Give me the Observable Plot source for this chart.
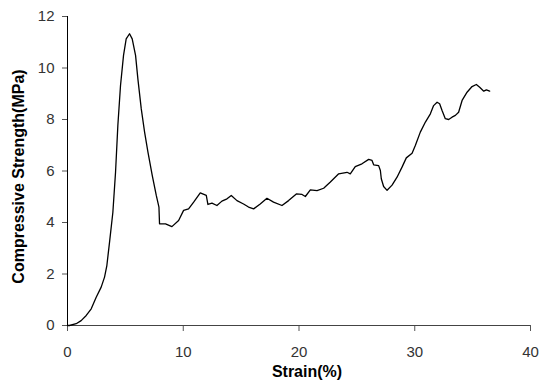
<!DOCTYPE html>
<html>
<head>
<meta charset="utf-8">
<script src="https://cdn.jsdelivr.net/npm/d3@7"></script>
<script src="https://cdn.jsdelivr.net/npm/@observablehq/plot@0.6"></script>
<style>
  html, body { margin: 0; padding: 0; background: #fff; }
  #chart { width: 540px; height: 385px; }
</style>
</head>
<body>
<div id="chart"></div>
<script>
const strain = [0, 0.17, 0.75, 1.18, 1.62, 2.05, 2.48, 2.91, 3.2, 3.4, 3.63, 3.92, 4.15, 4.35, 4.58, 4.84, 5.07, 5.36, 5.59, 5.88,
  6.08, 6.37, 6.66, 6.95, 7.32, 7.67, 7.9, 7.95, 8.47,
  9.02, 9.6, 10.03, 10.46, 10.9, 11.47, 11.99, 12.13, 12.48, 12.91, 13.34, 13.78, 14.15, 14.64, 15.21,
  15.64, 16.08, 16.65, 17.23, 17.8, 18.53, 19.1, 19.77, 20.26, 20.55, 20.98, 21.56, 22.13, 22.71, 23.43, 24.15, 24.43, 24.86, 25.44, 26.02,
  26.31, 26.45, 26.88, 27.03, 27.11, 27.31, 27.61, 28.04, 28.47, 28.9, 29.27, 29.77, 30.05, 30.48, 30.92, 31.35, 31.63, 31.93, 32.15, 32.36,
  32.64, 32.93, 33.22, 33.51, 33.79, 34.09, 34.52, 34.95, 35.32, 35.61, 35.96, 36.19, 36.47];
const stress = [0, 0.0, 0.07, 0.19, 0.39, 0.65, 1.1, 1.49, 1.88, 2.33, 3.23, 4.4, 5.95, 7.77, 9.32, 10.49, 11.13, 11.33, 11.13, 10.49,
  9.58, 8.42, 7.51, 6.73, 5.83, 5.05, 4.6, 3.95, 3.95,
  3.84, 4.08, 4.47, 4.53, 4.79, 5.15, 5.05, 4.7, 4.75, 4.66, 4.83, 4.92, 5.05, 4.85, 4.72,
  4.6, 4.53, 4.72, 4.94, 4.79, 4.66, 4.85, 5.11, 5.09, 5.01, 5.27, 5.24, 5.33, 5.57, 5.89, 5.95, 5.89, 6.17, 6.28, 6.45,
  6.41, 6.24, 6.21, 6.02, 5.7, 5.4, 5.25, 5.45, 5.76, 6.15, 6.51, 6.69, 6.99, 7.51, 7.9, 8.22, 8.54, 8.67, 8.61, 8.35,
  8.03, 8.0, 8.09, 8.16, 8.28, 8.74, 9.06, 9.28, 9.36, 9.25, 9.1, 9.15, 9.1];
const xTicks = [0, 10, 20, 30, 40];
const yTicks = [0, 2, 4, 6, 8, 10, 12];
const xTitle = "Strain(%)";
const yTitle = "Compressive Strength(MPa)";

const data = strain.map((x, i) => ({x, y: stress[i]}));

const chart = Plot.plot({
  width: 540,
  height: 385,
  marginLeft: 67,
  marginRight: 10,
  marginTop: 16,
  marginBottom: 60,
  style: {fontFamily: "'Liberation Sans', Arial, sans-serif", fontSize: "15px", background: "#fff", color: "#333"},
  x: {domain: [0, 40]},
  y: {domain: [0, 12]},
  marks: [
    Plot.axisY({ticks: yTicks, tickSize: 5, tickPadding: 8, label: null, stroke: "#555", fill: "#333", fontSize: 15}),
    Plot.axisX({ticks: xTicks, tickSize: 6, tickPadding: 15, label: null, stroke: "#555", fill: "#333", fontSize: 15}),
    Plot.ruleX([0], {stroke: "#000", strokeWidth: 1}),
    Plot.ruleY([0], {stroke: "#444", strokeWidth: 1}),
    Plot.line(data, {x: "x", y: "y", stroke: "#000", strokeWidth: 1.3}),
    Plot.text([yTitle], {frameAnchor: "left", rotate: -90, dx: -49, dy: 5.5, fontWeight: "bold", fontSize: 16, fill: "#000", textAnchor: "middle", lineAnchor: "middle"}),
    Plot.text([xTitle], {frameAnchor: "bottom", dx: 8, dy: 46, fontWeight: "bold", fontSize: 16, fill: "#000", textAnchor: "middle", lineAnchor: "middle"})
  ]
});
document.getElementById("chart").appendChild(chart);
</script>
</body>
</html>
